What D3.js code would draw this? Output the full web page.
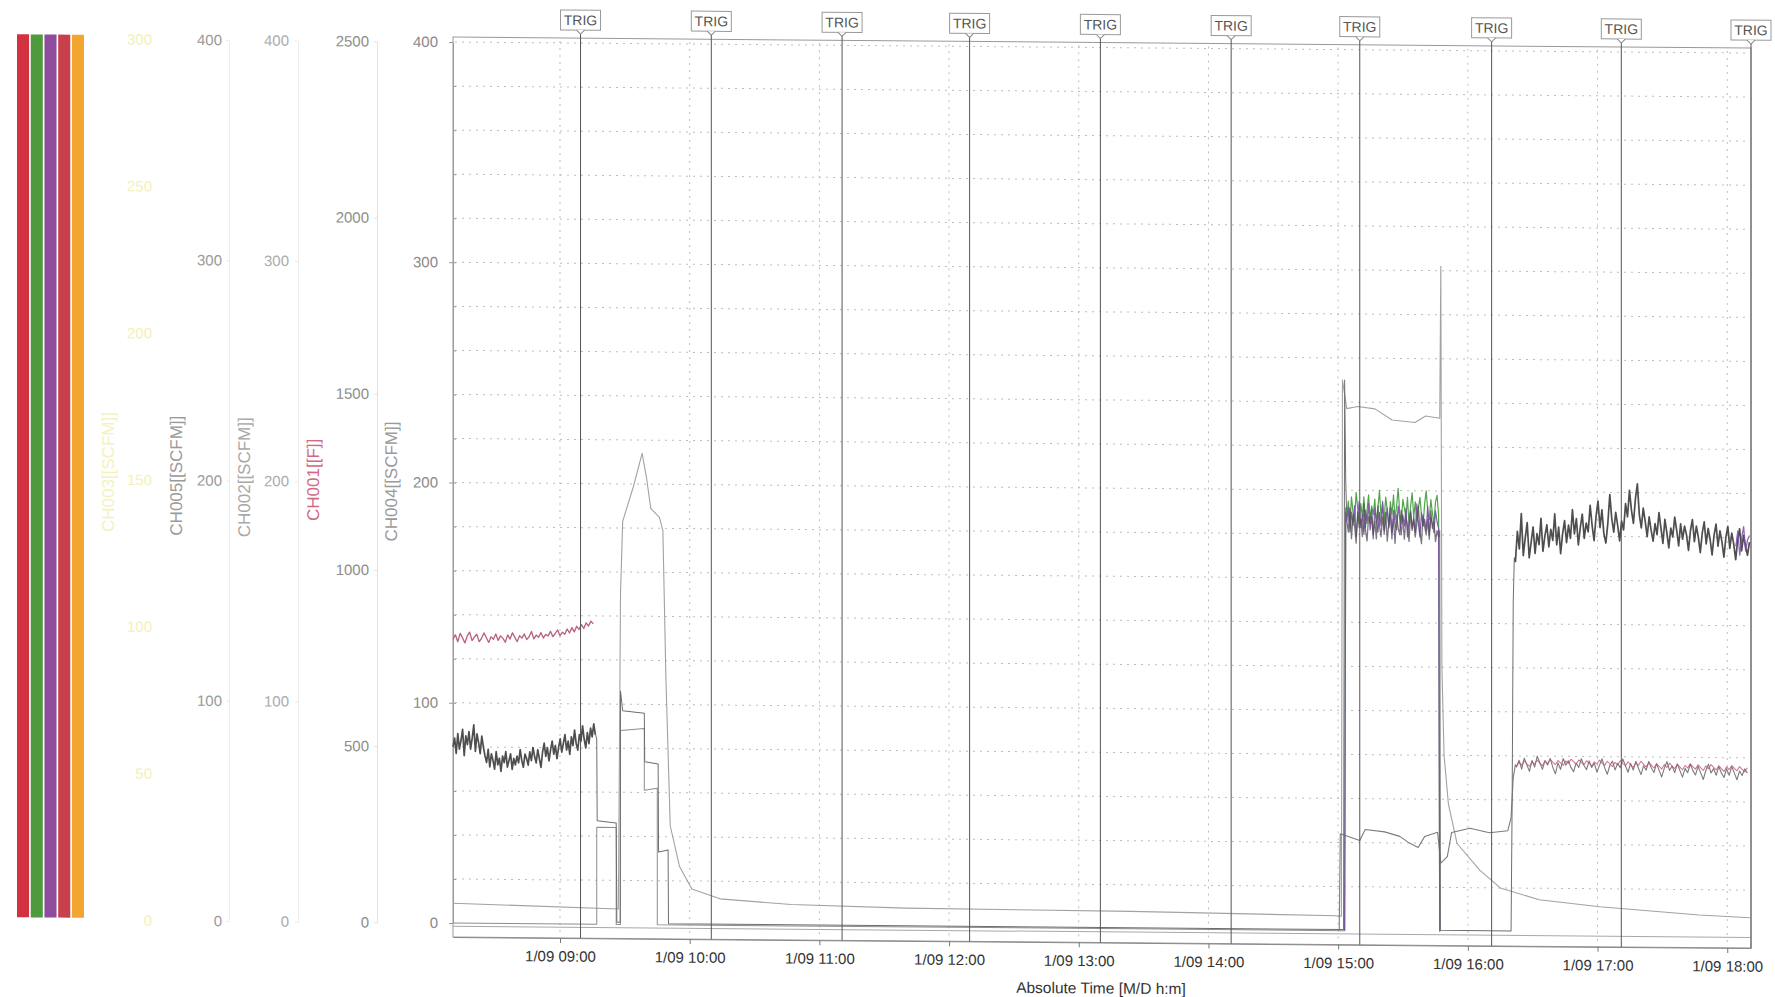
<!DOCTYPE html>
<html>
<head>
<meta charset="utf-8">
<script src="https://cdn.jsdelivr.net/npm/d3@7"></script>
<style>
  body { margin: 0; background: #fff; }
  svg { display: block; font-family: "Liberation Sans", Arial, sans-serif; }
</style>
</head>
<body>
<svg id="chart" width="1775" height="997"></svg>
<script>
// ---------------- data ----------------
const legendChannels = ["CH001", "CH005", "CH002", "CH004", "CH003"];

const flowTicks = [0, 100, 200, 300, 400];
const tempTicks = [0, 500, 1000, 1500, 2000, 2500];
const ch003Ticks = [0, 50, 100, 150, 200, 250, 300];
const hourTicks = ["09:00", "10:00", "11:00", "12:00", "13:00", "14:00", "15:00", "16:00", "17:00", "18:00"];
const trigTimes = ["09:09.5", "10:10", "11:10.5", "12:09.5", "13:10", "14:10.5", "15:10", "16:11", "17:11", "18:11"];

// CH004 [SCFM], logged samples
const ch004Morning = [80,84,77,86,79,83,88,76,85,81,87,79,84,90,78,86,82,77,85,80,
  76,73,79,71,77,74,70,78,72,75,69,76,73,78,71,74,77,70,75,72,
  76,73,79,74,71,77,75,72,78,74,80,76,73,79,75,71,78,82,76,80,
  74,79,83,77,81,75,80,84,78,82,86,79,83,77,85,81,88,82,79,86,
  83,90,84,80,87,82,89,85,91,86];
const ch004Steps = [["09:16.5",86],["09:17",84],["09:17.2",47],["09:26",46],["09:26.3",1],["09:27.8",1],["09:28",106],["09:29",97],
  ["09:39",96],["09:39.2",74],["09:45.4",73],["09:45.6",33],["09:50",34],["09:50.2",0.5],["15:02.5",0.5],
  ["15:03",250],["15:03.5",205],["15:04",186]];
const ch004Burst = [186,181,192,178,189,184,176,190,183,187,179,194,182,177,188,185,191,180,186,178,
  193,184,179,188,182,190,177,185,192,181,187,176,189,183,180,191,186,178,188,184,
  177,190,182,187,179,185,193,181,176,189,184,180,187,178,191,183,186,177,182,179];
const ch004Gap = [["15:46.5",179],["15:47",182],["15:47.3",0.5],["16:20",0.5],["16:20.5",60],["16:21",150],["16:21.5",170],["16:22",168]];
const ch004Evening = [168,182,174,190,171,179,186,170,177,184,172,181,176,188,173,180,185,175,183,178,
  190,176,184,172,181,187,177,185,179,192,181,188,176,184,190,179,186,182,194,185,
  178,189,196,184,192,181,177,186,199,188,182,191,185,178,187,183,195,189,201,192,
  186,197,204,190,184,193,187,180,189,183,178,186,181,191,184,177,188,182,175,184,
  180,189,183,176,186,179,185,181,174,183,188,178,185,180,173,182,187,177,184,179,
  172,181,186,176,183,178,171,180,185,175,182,177,170,179,184,174,181,176,172,178];

// CH005 [SCFM]
const ch005Steps = [["08:10.5",0],["09:17",0],["09:17",44],["09:26",44],["09:26",0],["09:28",0],["09:28",88],
  ["09:39",89],["09:39",61],["09:45",62],["09:45",0],["15:03",0],["15:03.5",192]];
const ch005Burst = [188,195,184,197,190,186,199,192,185,194,188,197,183,191,198,187,193,189,196,185,
  192,200,188,194,186,197,191,184,195,189,198,187,193,201,190,185,196,192,188,197,
  184,193,199,188,195,186,192,197,189,184,194,200,191,187,196,190,185,195,198,189];

// CH002 [SCFM]
const ch002Burst = [186,192,181,190,184,193,179,188,195,183,189,180,191,185,194,182,188,178,192,186,
  181,190,184,195,180,187,192,183,189,178,191,185,182,193,187,180,189,184,192,179,
  186,191,183,188,181,194,185,179,190,184,187,182,193,180,188,185,181,191,186,183];
const ch002Tail = [176,183,172,180,185,174,179,181];
const ch002Return = [["15:00.5",0],["15:01",44],["15:10",41],["15:12.5",46],["15:21.5",45],["15:28.5",43],["15:33",40],
  ["15:37",38],["15:40",43],["15:46",45],["15:47.5",31],["15:50.5",34],["15:52.5",45],["16:01",47],["16:10",45],
  ["16:18.5",46],["16:20",52],["16:21",70],["16:22",76]];
const ch002Evening = [75,78,74,79,76,73,78,75,80,77,74,78,76,79,75,72,77,74,79,76,
  78,75,73,77,75,79,76,74,78,75,77,73,76,79,75,72,76,78,74,77,
  75,79,76,73,77,74,78,75,72,76,74,78,75,73,77,74,71,75,78,74,
  76,73,77,74,71,75,73,77,74,72,76,73,70,74,77,73,75,72,76,73,
  71,75,72,76,73,70,74,72,75,73];

// CH001 [F]
const ch001Morning = [805,818,798,822,810,795,815,826,802,812,820,799,808,824,811,797,813,806,821,803,
  816,809,798,819,807,825,812,800,817,810,822,806,814,829,808,819,813,826,811,821,
  817,830,815,824,834,818,828,822,837,826,841,829,845,836,850,839,855,846,860,852];
const ch001Evening = [470,482,474,486,478,471,484,477,489,480,473,486,479,491,483,476,488,481,474,487,
  480,492,485,478,490,483,476,488,481,473,485,479,490,482,475,487,480,472,484,477,
  489,481,474,486,478,470,483,476,488,479,472,484,477,469,481,474,466,479,471,483,
  475,468,480,472,465,477,470,482,474,467,479,471,463,476,468,480,472,465,477,469,
  461,474,466,478,470,463,475,467,460,472];

// light trace (SCFM scale)
const lightTrace = [["08:10.5",9],["09:27",7],["09:28",150],["09:29",183],["09:34",199],["09:38",214],["09:40",203],
  ["09:42",189],["09:46",185],["09:47.6",179],["09:49",112],["09:51",45],["09:55.3",26.5],["10:01",16.4],
  ["10:14",12],["10:47",9.7],["11:40",8.5],["13:24",7.9],["14:59",6.7],["15:01.5",6.5],["15:02",250],
  ["15:04",237],["15:09",238],["15:17",237],["15:25",232],["15:35.5",231],["15:40.5",234],["15:47",233],
  ["15:47.5",302],["15:48",120],["15:49",80],["15:51",58],["15:55",40],["16:05.5",28],["16:15",20],
  ["16:33",14.8],["17:01",11.8],["17:47",8.5],["18:10.5",7.4]];
const ch003Trace = [["08:10.5",-1.5],["18:11",-1.5]];

// ---------------- helpers ----------------
const T = s => { const p = s.split(":"); return +p[0] + (+p[1]) / 60; };
const pts = arr => arr.map(d => [T(d[0]), d[1]]);
const run = (start, stepMin, vals) => vals.map((v, i) => [T(start) + i * stepMin / 60, v]);

const svg = d3.select("#chart");
const root = svg.append("g")
  .attr("transform", "translate(453,0) skewY(0.49) translate(-453,0)");

const x = d3.scaleLinear().domain([T("08:10.5"), T("18:11")]).range([453, 1751]);
const yFlow = d3.scaleLinear().domain([0, 400]).range([923, 42]);
const yTemp = d3.scaleLinear().domain([0, 2500]).range([923, 42]);
const y003 = d3.scaleLinear().domain([0, 300]).range([923, 42]);

// ---------------- legend colour strips ----------------
const stripColor = { CH001: "#d2323f", CH005: "#4f9a3c", CH002: "#8d4d9c", CH004: "#c9404d", CH003: "#f2a531" };
const band = d3.scaleBand().domain(legendChannels).range([17, 84]).paddingInner(0.12);
root.selectAll(".strip").data(legendChannels).enter().append("rect")
  .attr("class", "strip")
  .attr("x", d => band(d)).attr("y", 38)
  .attr("width", band.bandwidth()).attr("height", 883)
  .attr("fill", d => stripColor[d]);

// ---------------- grid ----------------
const grid = root.append("g");
grid.selectAll(".hg").data(d3.range(20, 401, 20)).enter().append("line")
  .attr("x1", 455).attr("x2", 1750)
  .attr("y1", d => yFlow(d)).attr("y2", d => yFlow(d))
  .attr("stroke", "#bdbdbd").attr("stroke-dasharray", "2,5");
grid.selectAll(".vg").data(hourTicks).enter().append("line")
  .attr("x1", d => x(T(d))).attr("x2", d => x(T(d)))
  .attr("y1", 40).attr("y2", 935)
  .attr("stroke", "#bdbdbd").attr("stroke-dasharray", "2,5");

// frame
root.append("rect").attr("x", 453).attr("y", 37).attr("width", 1298).attr("height", 900)
  .attr("fill", "none").attr("stroke", "#999").attr("stroke-width", 1);

// ---------------- left axes ----------------
function styleAxis(g, lineCol, textCol) {
  g.selectAll("path").attr("stroke", lineCol);
  g.selectAll("line").attr("stroke", lineCol);
  g.selectAll("text").attr("fill", textCol).attr("font-size", 15)
    .attr("font-family", "'Liberation Sans', Arial, sans-serif");
}
const fmt = d3.format("d");
const a003 = root.append("g").attr("transform", "translate(160,0)")
  .call(d3.axisLeft(y003).tickValues(ch003Ticks).tickSize(0).tickSizeOuter(0).tickPadding(8).tickFormat(fmt));
styleAxis(a003, "none", "#f3f1b8");
const a005 = root.append("g").attr("transform", "translate(229,0)")
  .call(d3.axisLeft(yFlow).tickValues(flowTicks).tickSize(3).tickSizeOuter(0).tickPadding(4).tickFormat(fmt));
styleAxis(a005, "#ececec", "#9a9a9a");
const a002 = root.append("g").attr("transform", "translate(298,0)")
  .call(d3.axisLeft(yFlow).tickValues(flowTicks).tickSize(3).tickSizeOuter(0).tickPadding(6).tickFormat(fmt));
styleAxis(a002, "#ececec", "#acacac");
const a001 = root.append("g").attr("transform", "translate(377,0)")
  .call(d3.axisLeft(yTemp).tickValues(tempTicks).tickSize(3).tickSizeOuter(0).tickPadding(5).tickFormat(fmt));
styleAxis(a001, "#e2e2e2", "#8e8e8e");
const a004 = root.append("g").attr("transform", "translate(453,0)")
  .call(d3.axisLeft(yFlow).tickValues(flowTicks).tickSize(4).tickSizeOuter(0).tickPadding(11).tickFormat(fmt));
styleAxis(a004, "#9a9a9a", "#8a8a8a");
const a004m = root.append("g").attr("transform", "translate(453,0)")
  .call(d3.axisRight(yFlow).tickValues(d3.range(20, 400, 20)).tickSize(3).tickFormat(""));
a004m.select("path").remove();
a004m.selectAll("line").attr("stroke", "#9a9a9a");

const titles = [
  { t: "CH003[[SCFM]]", x: 114, y: 475, c: "#f4f1bf" },
  { t: "CH005[[SCFM]]", x: 182, y: 478, c: "#9a9a9a" },
  { t: "CH002[[SCFM]]", x: 250, y: 479, c: "#a8a8a8" },
  { t: "CH001[[F]]", x: 319, y: 481, c: "#d06a82" },
  { t: "CH004[[SCFM]]", x: 397, y: 482, c: "#9a9a9a" }
];
root.selectAll(".ytitle").data(titles).enter().append("text")
  .attr("transform", d => `translate(${d.x},${d.y}) rotate(-90)`)
  .attr("text-anchor", "middle").attr("font-size", 17)
  .attr("fill", d => d.c).text(d => d.t);

// ---------------- bottom axis ----------------
const ax = root.append("g").attr("transform", "translate(0,937)")
  .call(d3.axisBottom(x).tickValues(hourTicks.map(T)).tickSize(5).tickSizeOuter(0).tickPadding(8)
    .tickFormat(v => "1/09 " + hourTicks[hourTicks.map(T).indexOf(v)]));
ax.select("path").attr("stroke", "#888");
ax.selectAll("line").attr("stroke", "#777");
ax.selectAll("text").attr("fill", "#333").attr("font-size", 15)
  .attr("font-family", "'Liberation Sans', Arial, sans-serif");
root.append("text").attr("x", 1101).attr("y", 988).attr("text-anchor", "middle")
  .attr("font-size", 15.5).attr("fill", "#333").text("Absolute Time [M/D h:m]");

// ---------------- series ----------------
const lineF = d3.line().x(d => x(d[0])).y(d => yFlow(d[1]));
const lineT = d3.line().x(d => x(d[0])).y(d => yTemp(d[1]));
const plot = root.append("g");
function draw(data, gen, color, width, op) {
  plot.append("path").datum(data).attr("d", gen)
    .attr("fill", "none").attr("stroke", color)
    .attr("stroke-width", width).attr("stroke-opacity", op || 1)
    .attr("stroke-linejoin", "round");
}

draw(pts(ch003Trace), lineF, "#a8a8a8", 1);
draw(pts(lightTrace), lineF, "#a2a2a2", 1.1);
draw(pts(ch005Steps.slice(0, -1)), lineF, "#8e8e8e", 1);
draw(run("08:10.5", 1.1, ch001Morning), lineT, "#b8607a", 1.3);
draw(pts(ch002Return).concat(run("16:22.5", 1.2, ch002Evening)), lineF, "#7c7c7c", 1.1);
draw(run("16:22.5", 1.2, ch001Evening), lineT, "#c0506a", 1, 0.8);

// CH004: noisy stretches bold, transitions thin
draw(pts(ch004Steps), lineF, "#6e6e6e", 1);
draw(pts(ch004Gap), lineF, "#6e6e6e", 1);
draw(run("08:10.5", 0.74, ch004Morning), lineF, "#4e4e4e", 1.7);

draw(pts(ch005Steps.slice(-2)).concat(run("15:04", 0.72, ch005Burst)).concat(pts([["15:47", 0]])),
  lineF, "#3f9a3a", 1.2, 0.9);
draw(pts([["15:03", 0], ["15:03.5", 190]]).concat(run("15:04", 0.72, ch002Burst)).concat(pts([["15:47", 0]])),
  lineF, "#7a4fa6", 1.2, 0.9);
draw(run("15:04", 0.72, ch004Burst), lineF, "#4e4e4e", 1.3, 0.75);
draw(run("16:22", 0.91, ch004Evening), lineF, "#4e4e4e", 1.7);
draw(run("18:04", 0.9, ch002Tail), lineF, "#7a4fa6", 1.3, 0.85);

// ---------------- TRIG markers ----------------
const trig = root.selectAll(".trig").data(trigTimes).enter().append("g")
  .attr("class", "trig")
  .attr("transform", d => `translate(${x(T(d))},0)`);
trig.append("line").attr("y1", 29).attr("y2", 937).attr("stroke", "#555").attr("stroke-width", 1);
trig.append("rect").attr("x", -20).attr("y", 9).attr("width", 40).attr("height", 20)
  .attr("fill", "#fff").attr("stroke", "#999");
trig.append("path").attr("d", "M-4,29 L0,33 L4,29").attr("fill", "#fff").attr("stroke", "#888");
trig.append("text").attr("y", 24).attr("text-anchor", "middle").attr("font-size", 14)
  .attr("fill", "#555").text("TRIG");
</script>
</body>
</html>
